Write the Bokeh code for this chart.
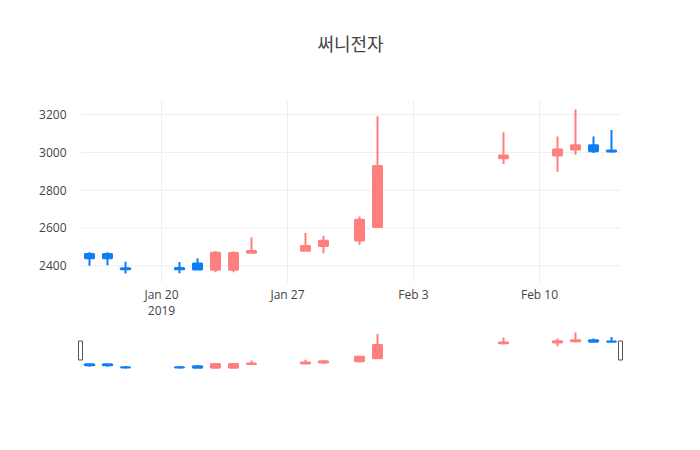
import pandas as pd
from bokeh.plotting import figure
from bokeh.layouts import column
from bokeh.models import Range1d, FixedTicker, ColumnDataSource
from bokeh.embed import file_html
from bokeh.resources import INLINE

# ---- data ----
title_text = "써니전자"
dates = ["2019-01-16", "2019-01-17", "2019-01-18", "2019-01-21", "2019-01-22",
         "2019-01-23", "2019-01-24", "2019-01-25", "2019-01-28", "2019-01-29",
         "2019-01-31", "2019-02-01", "2019-02-08", "2019-02-11", "2019-02-12",
         "2019-02-13", "2019-02-14"]
opens = [2462, 2462, 2387, 2388, 2412, 2379, 2379, 2469, 2480, 2504,
         2534, 2605, 2969, 2983, 3016, 3038, 3010]
highs = [2472, 2472, 2421, 2420, 2439, 2478, 2477, 2550, 2573, 2559,
         2660, 3192, 3107, 3084, 3227, 3084, 3119]
lows = [2400, 2402, 2359, 2360, 2380, 2365, 2365, 2469, 2478, 2466,
        2511, 2600, 2939, 2898, 2988, 2997, 3000]
closes = [2440, 2440, 2381, 2382, 2380, 2469, 2468, 2478, 2504, 2532,
          2644, 2928, 2983, 3016, 3038, 3006, 3005]
y_ticks = [2400, 2600, 2800, 3000, 3200]
x_tick_dates = ["2019-01-20", "2019-01-27", "2019-02-03", "2019-02-10"]
x_tick_labels = ["Jan 20\n2019", "Jan 27", "Feb 3", "Feb 10"]

INC = "#FF7F7F"
DEC = "#0E7EF5"
DAY = 86400000.0

x_ms = [pd.Timestamp(d).value / 1e6 for d in dates]
src = ColumnDataSource(dict(
    x=x_ms,
    high=highs,
    low=lows,
    top=[max(o, c) for o, c in zip(opens, closes)],
    bottom=[min(o, c) for o, c in zip(opens, closes)],
    color=[INC if c > o else DEC for o, c in zip(opens, closes)],
))

x0 = min(x_ms) - 0.5 * DAY
x1 = max(x_ms) + 0.5 * DAY
lo, hi = min(lows), max(highs)
pad = (hi - lo) * 0.055
y0, y1 = lo - pad, hi + pad

xt = [pd.Timestamp(d).value / 1e6 for d in x_tick_dates]

FONT = "Open Sans"
TXT = "#444444"
DW = 540                 # width of the data area in px
EXT = 6                  # extra px on each side (room for slider handles)
FW = DW + 2 * EXT
FH = 182
spad = EXT / DW * (x1 - x0)
XR = (x0 - spad, x1 + spad)
BL, BR = 80 - EXT, 64 - EXT

# ---- title strip ----
pt = figure(frame_width=FW, frame_height=1, min_border_left=BL, min_border_right=BR,
            min_border_top=55, min_border_bottom=0, x_axis_location=None,
            y_axis_location=None, output_backend="svg", toolbar_location=None)
pt.outline_line_color = None
pt.grid.visible = False
pt.title.text = title_text
pt.title.align = "center"
pt.title.text_font = "Noto Sans CJK KR"
pt.title.text_font_size = "18px"
pt.title.text_font_style = "normal"
pt.title.text_color = TXT
pt.title.standoff = 0

# ---- main chart ----
p = figure(x_axis_type="datetime", frame_width=FW, frame_height=FH,
           min_border_left=BL, min_border_right=BR, min_border_top=44,
           min_border_bottom=40, x_range=Range1d(*XR), y_range=Range1d(y0, y1),
           output_backend="svg", toolbar_location=None)
p.outline_line_color = None
p.background_fill_color = "white"
p.border_fill_color = "white"
p.title.visible = False

# horizontal grid lines limited to the data area
p.segment(x0=[x0] * len(y_ticks), x1=[x1] * len(y_ticks), y0=y_ticks, y1=y_ticks,
          line_color="#eeeeee", line_width=1)
p.ygrid.visible = False
p.xgrid.grid_line_color = "#eeeeee"
p.xgrid.grid_line_width = 1

p.segment(x0="x", y0="low", x1="x", y1="high", line_color="color", line_width=2, source=src)
p.vbar(x="x", width=0.5 * DAY, top="top", bottom="bottom", fill_color="color",
       line_color="color", line_width=2, source=src)

p.xaxis.ticker = FixedTicker(ticks=xt)
p.xaxis.major_label_overrides = {t: lab for t, lab in zip(xt, x_tick_labels)}
p.yaxis.ticker = FixedTicker(ticks=y_ticks)
for ax in (p.xaxis, p.yaxis):
    ax.axis_line_color = None
    ax.major_tick_line_color = None
    ax.minor_tick_line_color = None
    ax.major_tick_out = 0
    ax.major_tick_in = 0
    ax.minor_tick_out = 0
    ax.minor_tick_in = 0
    ax.major_label_text_font = FONT
    ax.major_label_text_font_size = "12px"
    ax.major_label_text_color = TXT
p.xaxis.major_label_standoff = 3
p.xaxis.major_label_text_line_height = 0.96
p.yaxis.major_label_standoff = 2 + EXT

# ---- range slider ----
SH = 40
p2 = figure(x_axis_type="datetime", frame_width=FW, frame_height=SH,
            min_border_left=BL, min_border_right=BR, min_border_top=8,
            min_border_bottom=5, x_range=Range1d(*XR),
            y_range=Range1d(y0, y1), x_axis_location=None, y_axis_location=None,
            output_backend="svg", toolbar_location=None)
p2.outline_line_color = None
p2.grid.visible = False
p2.title.visible = False
p2.segment(x0="x", y0="low", x1="x", y1="high", line_color="color", line_width=2, source=src)
p2.vbar(x="x", width=0.5 * DAY, top="top", bottom="bottom", fill_color="color",
        line_color="color", line_width=2, source=src)
ym = (y0 + y1) / 2
p2.rect(x=[x0, x1], y=[ym, ym], width=4, width_units="screen", height=19,
        height_units="screen", fill_color="white", line_color="#555555", line_width=1)

layout = column(pt, p, p2)
open("out.html", "w").write(file_html(layout, INLINE))
